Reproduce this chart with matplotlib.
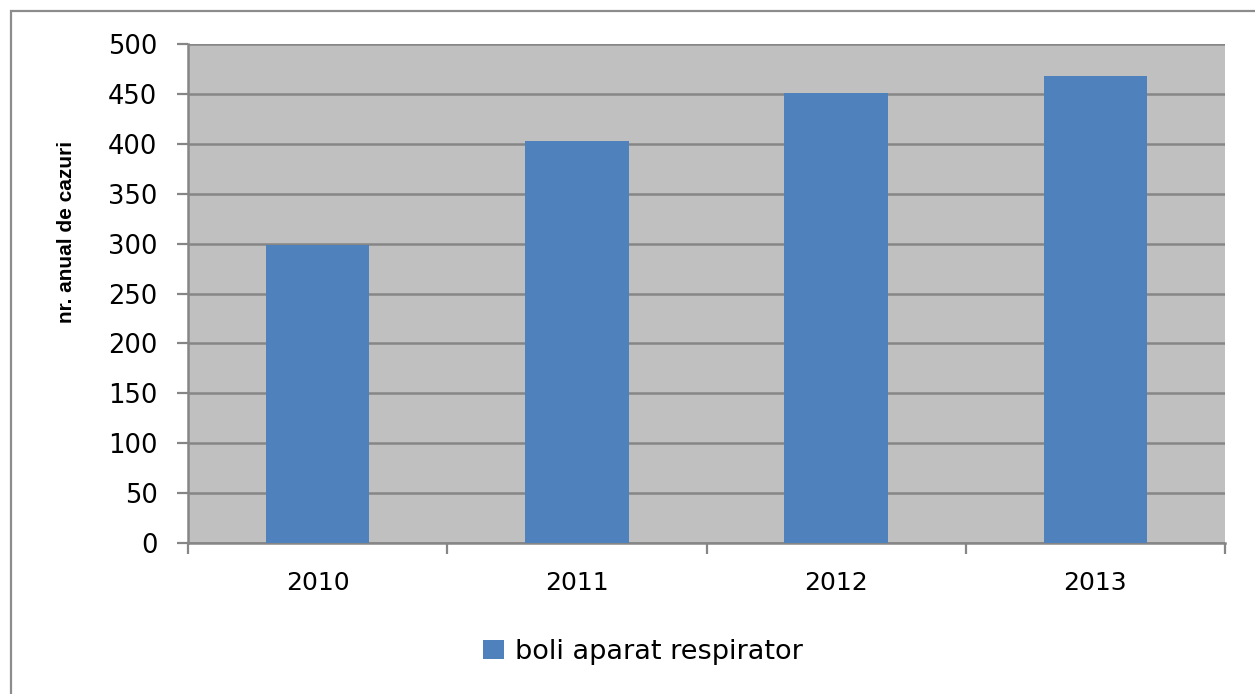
import matplotlib.pyplot as plt
from matplotlib.patches import Rectangle
from matplotlib.ticker import FixedLocator, NullFormatter

years = ["2010", "2011", "2012", "2013"]
cazuri = [299, 403, 451, 468]
y_ticks = [0, 50, 100, 150, 200, 250, 300, 350, 400, 450, 500]
serie = "boli aparat respirator"

bar_color = "#4F81BD"
plot_bg = "#C0C0C0"
grid_color = "#868686"

W, H = 1255, 694
fig = plt.figure(figsize=(W / 100, H / 100), dpi=100)
ax = fig.add_axes([188 / W, 1 - 543 / H, 1037 / W, 499 / H])

# chenarul exterior (taiat la dreapta si jos)
fig.patches.append(Rectangle((10.5 / W, -0.05), 1.2, 1 - 11 / H + 0.05,
                             transform=fig.transFigure, fill=False,
                             edgecolor="#8C8C8C", linewidth=1.6))

x = range(len(years))
bars = ax.bar(x, cazuri, width=0.4, color=bar_color, zorder=3, label=serie)

ax.set_facecolor(plot_bg)
ax.set_xlim(-0.5, len(years) - 0.5)
ax.set_ylim(0, 500)
ax.set_yticks(y_ticks)
ax.yaxis.grid(True, color=grid_color, linewidth=1.8, zorder=1)
ax.set_axisbelow(True)

for s in ["top", "right"]:
    ax.spines[s].set_visible(False)
for s in ["left", "bottom"]:
    ax.spines[s].set_color(grid_color)
    ax.spines[s].set_linewidth(1.8)

# etichetele anilor fara marcaje, marcajele intre categorii
ax.set_xticks(list(x))
ax.set_xticklabels(years)
ax.tick_params(axis="x", which="major", length=0, pad=20, labelsize=18)
ax.xaxis.set_minor_locator(FixedLocator([i - 0.5 for i in range(len(years) + 1)]))
ax.xaxis.set_minor_formatter(NullFormatter())
ax.tick_params(axis="x", which="minor", length=8, width=1.6, color=grid_color)
ax.tick_params(axis="y", length=8, width=1.6, color=grid_color, pad=14, labelsize=18.5)

ax.set_ylabel("nr. anual de cazuri", fontsize=15, fontweight="bold",
              family="Liberation Sans")
ax.yaxis.set_label_coords(-0.108, 0.623)

fig.legend(handles=[bars], labels=[serie], loc="center",
           bbox_to_anchor=(643 / W, 1 - 652 / H), frameon=False,
           fontsize=19.5, handlelength=0.75, handleheight=0.75, handletextpad=0.4)

fig.savefig("out.png", dpi=100)
